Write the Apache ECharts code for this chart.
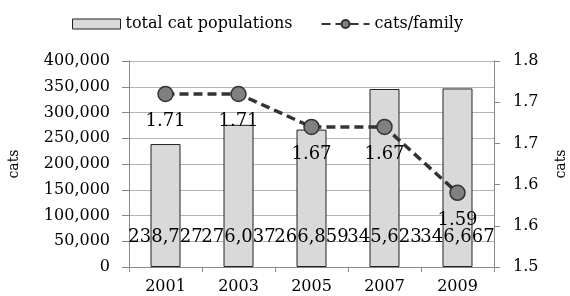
<!DOCTYPE html>
<html>
<head>
<meta charset="utf-8">
<script src="https://cdn.jsdelivr.net/npm/echarts@6/dist/echarts.min.js"></script>
<style>
  html, body { margin: 0; padding: 0; background: #fff; }
  #chart { width: 570px; height: 296px; }
</style>
</head>
<body>
<div id="chart"></div>
<script>
  // data
  var years = ['2001', '2003', '2005', '2007', '2009'];
  var catPopulations = [238727, 276037, 266859, 345623, 346667];
  var catsPerFamily = [1.71, 1.71, 1.67, 1.67, 1.59];

  var serif = 'DejaVu Serif';

  var myChart = echarts.init(document.getElementById('chart'));
  var option = {
    animation: false,
    textStyle: { fontFamily: serif, color: '#000' },
    legend: {
      top: 11,
      left: 67,
      itemGap: 28,
      itemWidth: 48,
      itemHeight: 10,
      textStyle: { fontFamily: serif, fontSize: 16, color: '#000' },
      data: [
        { name: 'total cat populations', icon: 'rect', itemStyle: { borderColor: '#222', borderWidth: 1 } },
        { name: 'cats/family' }
      ]
    },
    grid: {
      left: 129,
      right: 76,
      top: 61,
      bottom: 29,
      outerBoundsMode: 'none'
    },
    xAxis: {
      type: 'category',
      data: years,
      axisLine: { lineStyle: { color: '#888', width: 1 } },
      axisTick: { show: true, length: 5, lineStyle: { color: '#888' } },
      axisLabel: { fontFamily: serif, fontSize: 16, color: '#000', margin: 12 }
    },
    yAxis: [
      {
        type: 'value',
        min: 0,
        max: 400000,
        interval: 50000,
        name: 'cats',
        nameLocation: 'middle',
        nameGap: 108,
        nameRotate: 90,
        nameTextStyle: { fontFamily: serif, fontSize: 14, color: '#000' },
        axisLine: { show: true, lineStyle: { color: '#888' } },
        axisTick: { show: true, length: 7, lineStyle: { color: '#888' } },
        axisLabel: {
          fontFamily: serif, fontSize: 16, color: '#000', margin: 19,
          formatter: function (v) { return v.toLocaleString('en-US'); }
        },
        splitLine: { lineStyle: { color: '#b4b4b4', width: 1 } }
      },
      {
        type: 'value',
        min: 1.5,
        max: 1.75,
        interval: 0.05,
        name: 'cats',
        nameLocation: 'middle',
        nameGap: 60,
        nameRotate: 90,
        nameTextStyle: { fontFamily: serif, fontSize: 14, color: '#000' },
        axisLine: { show: true, lineStyle: { color: '#888' } },
        axisTick: { show: true, length: 6, lineStyle: { color: '#888' } },
        axisLabel: {
          fontFamily: serif, fontSize: 16, color: '#000', margin: 19,
          formatter: function (v) { return (Math.round(v * 10 + 1e-6) / 10).toFixed(1); }
        },
        splitLine: { show: false }
      }
    ],
    series: [
      {
        name: 'total cat populations',
        type: 'bar',
        data: catPopulations,
        barWidth: 30,
        itemStyle: { color: '#d9d9d9', borderColor: '#222', borderWidth: 1 },
        label: {
          show: true,
          position: 'insideBottom',
          distance: 21,
          fontFamily: serif,
          fontSize: 18,
          color: '#000',
          formatter: function (p) { return p.value.toLocaleString('en-US'); }
        },
        z: 2
      },
      {
        name: 'cats/family',
        type: 'line',
        yAxisIndex: 1,
        data: catsPerFamily,
        symbol: 'circle',
        symbolSize: 15,
        lineStyle: { color: '#333', width: 3.5, type: [9, 5] },
        itemStyle: { color: '#808080', borderColor: '#333', borderWidth: 1.5 },
        label: {
          show: true,
          position: 'bottom',
          distance: 10,
          fontFamily: serif,
          fontSize: 18,
          color: '#000',
          formatter: function (p) { return p.value.toFixed(2); }
        },
        z: 3
      }
    ]
  };
  myChart.setOption(option);
</script>
</body>
</html>
